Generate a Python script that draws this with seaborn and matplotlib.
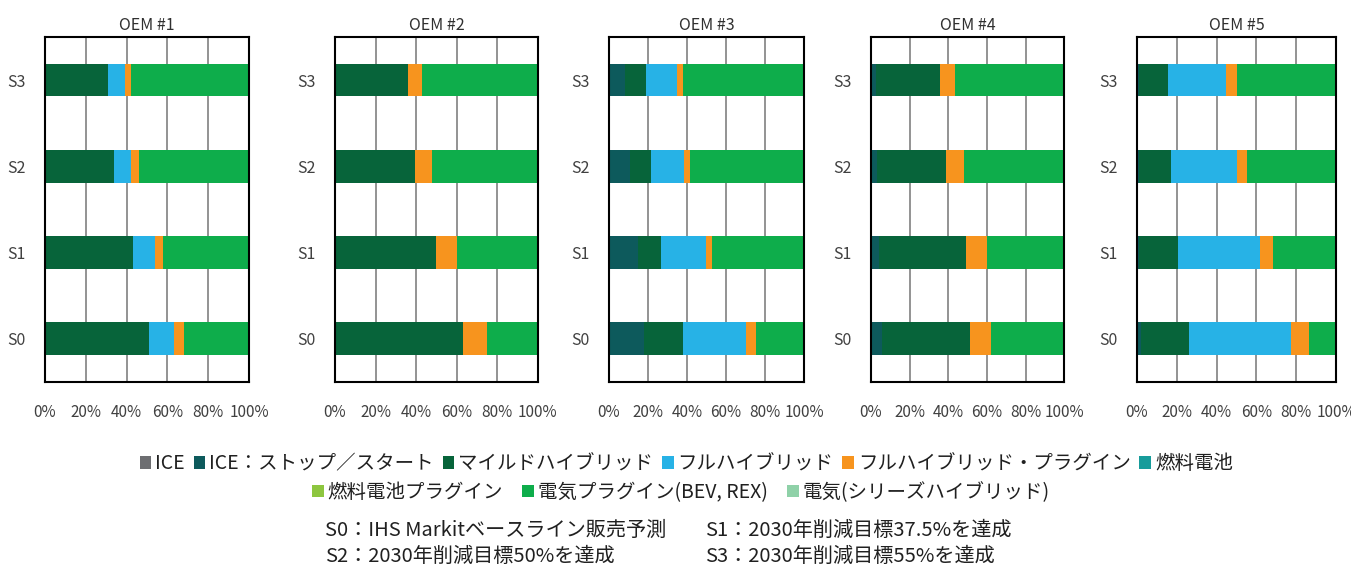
import numpy as np
import pandas as pd
import seaborn as sns
import matplotlib.pyplot as plt
from matplotlib.patches import Patch

sns.set_theme(style='white')
plt.rcParams['font.family'] = ['Noto Sans CJK JP', 'DejaVu Sans']

oems = ['OEM #1', 'OEM #2', 'OEM #3', 'OEM #4', 'OEM #5']
scenarios = ['S0', 'S1', 'S2', 'S3']
shown_order = ['S3', 'S2', 'S1', 'S0']

# shares in %, one row per OEM, columns S0..S3
ice_stop = [[0, 0, 0, 0], [0, 0, 0, 0], [18, 15, 11, 8], [5.5, 4, 3, 2.5], [2, 1, 1, 1]]
mild = [[51, 43, 34, 31], [63, 50, 39.5, 36], [20, 11.5, 10.5, 11], [45.5, 45, 36, 33], [24, 19.5, 16, 14.5]]
full = [[12, 11, 8, 8], [0, 0, 0, 0], [32, 23, 17, 16], [0, 0, 0, 0], [51.5, 41.5, 33, 29]]
full_phev = [[5, 4, 4, 3], [12, 10, 8.5, 7], [5.5, 3.5, 3, 3], [11, 11, 9, 8], [9, 6.5, 5.5, 5.5]]
bev = [[32, 42, 54, 58], [25, 40, 52, 57], [24.5, 47, 58.5, 62], [38, 40, 52, 56.5], [13.5, 31.5, 44.5, 50]]

legend_labels = ['ICE', 'ICE：ストップ／スタート', 'マイルドハイブリッド', 'フルハイブリッド',
                 'フルハイブリッド・プラグイン', '燃料電池', '燃料電池プラグイン',
                 '電気プラグイン(BEV, REX)', '電気(シリーズハイブリッド)']
legend_colors = ['#6d6e71', '#0d5a5c', '#07643a', '#27b2e6', '#f7941e',
                 '#179c9b', '#8dc63f', '#0ead4b', '#8fd1a8']

notes = ['S0：IHS Markitベースライン販売予測', 'S1：2030年削減目標37.5%を達成',
         'S2：2030年削減目標50%を達成', 'S3：2030年削減目標55%を達成']

series = [ice_stop, mild, full, full_phev, bev]
series_colors = [legend_colors[1], legend_colors[2], legend_colors[3], legend_colors[4], legend_colors[7]]

lefts = [0.0333, 0.248, 0.4508, 0.6447, 0.8416]
widths = [0.151, 0.150, 0.1444, 0.1431, 0.1473]

fig = plt.figure(figsize=(13.51, 5.69), dpi=100)

for i, name in enumerate(oems):
    ax = fig.add_axes([lefts[i], 0.329, widths[i], 0.606])
    vals = np.array([s[i] for s in series])
    cum = np.cumsum(vals, axis=0)
    # draw totals from the outermost segment inwards so each covers the next
    for k in range(len(series) - 1, -1, -1):
        df = pd.DataFrame({'scenario': scenarios, 'share': cum[k]})
        sns.barplot(data=df, x='share', y='scenario', order=shown_order, orient='h',
                    color=series_colors[k], saturation=1, width=0.38, linewidth=0, ax=ax)
    ax.set_xlim(0, 100)
    ax.set_ylim(3.5, -0.5)
    ax.set_xticks([0, 20, 40, 60, 80, 100])
    ax.set_xticklabels(['0%', '20%', '40%', '60%', '80%', '100%'], fontsize=11, color='#404040')
    ax.tick_params(axis='y', labelsize=11.5, labelcolor='#404040', pad=8)
    ax.tick_params(axis='x', pad=10)
    ax.set_xlabel('')
    ax.set_ylabel('')
    ax.grid(axis='x', color='#808080', linewidth=1.2)
    ax.set_axisbelow(True)
    for sp in ax.spines.values():
        sp.set_color('black')
        sp.set_linewidth(1.5)
    ax.set_title(name, fontsize=11.5, color='#303030', pad=5)

handles = [Patch(facecolor=c, edgecolor='none') for c in legend_colors]
fig.legend(handles[:6], legend_labels[:6], loc='center', bbox_to_anchor=(0.508, 0.185), ncol=6,
           frameon=False, fontsize=14, handlelength=0.6, handleheight=0.6, handletextpad=0.2,
           columnspacing=0.45, labelcolor='#202020')
fig.legend(handles[6:], legend_labels[6:], loc='center', bbox_to_anchor=(0.504, 0.135), ncol=3,
           frameon=False, fontsize=14, handlelength=0.6, handleheight=0.6, handletextpad=0.2,
           columnspacing=1.0, labelcolor='#202020')

fig.text(0.2405, 1 - 530 / 569, notes[0], fontsize=14.5, va='center', color='#202020')
fig.text(0.5218, 1 - 530 / 569, notes[1], fontsize=14.5, va='center', color='#202020')
fig.text(0.2405, 1 - 556 / 569, notes[2], fontsize=14.5, va='center', color='#202020')
fig.text(0.5218, 1 - 556 / 569, notes[3], fontsize=14.5, va='center', color='#202020')

fig.savefig('out.png', dpi=100, facecolor='white')
